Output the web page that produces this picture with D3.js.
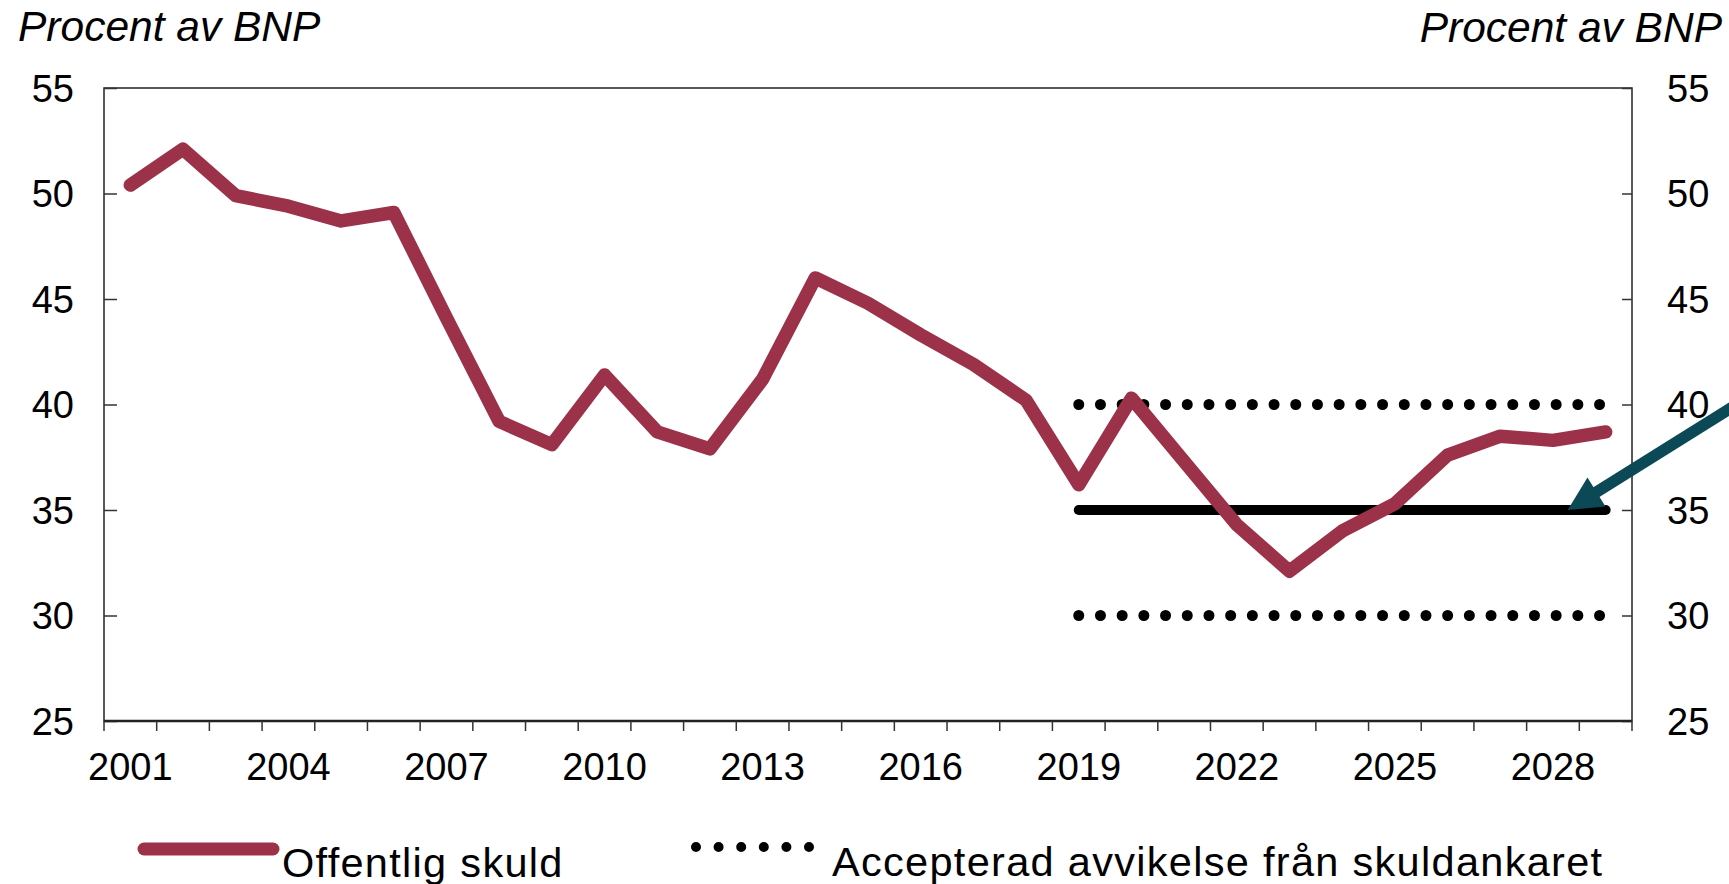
<!DOCTYPE html>
<html>
<head>
<meta charset="utf-8">
<script src="https://cdn.jsdelivr.net/npm/d3@7"></script>
<style>
  body { margin: 0; background: #fff; }
  svg { display: block; font-family: "Liberation Sans", Arial, sans-serif; }
  .tick text { font-size: 38px; fill: #000; }
</style>
</head>
<body>
<div id="chart"></div>
<script>
// data
const years = [2001, 2002, 2003, 2004, 2005, 2006, 2007, 2008, 2009, 2010,
  2011, 2012, 2013, 2014, 2015, 2016, 2017, 2018, 2019, 2020,
  2021, 2022, 2023, 2024, 2025, 2026, 2027, 2028, 2029];
const debt = [50.4, 52.1, 49.9, 49.4, 48.7, 49.1, 44.1, 39.2, 38.1, 41.4,
  38.7, 37.9, 41.2, 46.0, 44.8, 43.3, 41.9, 40.2, 36.2, 40.3,
  37.3, 34.3, 32.1, 34.0, 35.3, 37.6, 38.5, 38.3, 38.7];
const anchorYears = [2019, 2029];
const anchorValue = 35;
const bandValues = [40, 30];
const yTicks = [25, 30, 35, 40, 45, 50, 55];
const xLabels = [2001, 2004, 2007, 2010, 2013, 2016, 2019, 2022, 2025, 2028];
const unitLabel = "Procent av BNP";
const legendLabels = ["Offentlig skuld", "Accepterad avvikelse från skuldankaret"];

const width = 1729, height = 884;
const margin = {top: 88, right: 97, bottom: 163, left: 104};
const red = "#9b3249", teal = "#0c4957";

const svg = d3.select("#chart").append("svg")
  .attr("width", width).attr("height", height);

const x = d3.scaleBand().domain(years).range([margin.left, width - margin.right]);
const y = d3.scaleLinear().domain([25, 55]).range([height - margin.bottom, margin.top]);
const cx = d => x(d) + x.bandwidth() / 2;

// frame
svg.append("rect")
  .attr("x", margin.left).attr("y", margin.top)
  .attr("width", width - margin.left - margin.right)
  .attr("height", height - margin.top - margin.bottom)
  .attr("fill", "none").attr("stroke", "#222").attr("stroke-width", 1.5);

// y axes (ticks point inwards)
const yLeft = svg.append("g").attr("transform", `translate(${margin.left},0)`)
  .call(d3.axisLeft(y).tickValues(yTicks).tickSize(-13).tickPadding(30));
const yRight = svg.append("g").attr("transform", `translate(${width - margin.right},0)`)
  .call(d3.axisRight(y).tickValues(yTicks).tickSize(-10).tickPadding(35));
[yLeft, yRight].forEach(g => {
  g.select(".domain").remove();
  g.selectAll(".tick line").attr("stroke", "#333").attr("stroke-width", 1.5);
  g.selectAll(".tick text").attr("dy", "0.35em");
});

// x axis: labels at band centres, ticks at band edges
const xAxis = svg.append("g").attr("transform", `translate(0,${height - margin.bottom})`)
  .call(d3.axisBottom(x).tickValues(xLabels).tickSize(0).tickPadding(32));
xAxis.select(".domain").remove();
xAxis.selectAll(".tick text").attr("dy", "0.71em").attr("y", 32);
svg.append("line")
  .attr("x1", margin.left).attr("x2", width - margin.right)
  .attr("y1", y(25)).attr("y2", y(25))
  .attr("stroke", "#222").attr("stroke-width", 2.5);
svg.append("g").selectAll("line")
  .data(years.concat([null]))
  .join("line")
  .attr("x1", (d, i) => margin.left + i * x.step())
  .attr("x2", (d, i) => margin.left + i * x.step())
  .attr("y1", y(25)).attr("y2", y(25) + 10)
  .attr("stroke", "#333").attr("stroke-width", 1.5);

// unit labels
svg.append("text").attr("x", 18).attr("y", 41)
  .attr("font-size", 42.5).attr("font-style", "italic").text(unitLabel);
svg.append("text").attr("x", 1722).attr("y", 42)
  .attr("text-anchor", "end")
  .attr("font-size", 42.5).attr("font-style", "italic").text(unitLabel);

// accepted deviation band (dotted)
bandValues.forEach(v => {
  svg.append("line")
    .attr("x1", cx(anchorYears[0])).attr("x2", cx(anchorYears[1]))
    .attr("y1", y(v)).attr("y2", y(v))
    .attr("stroke", "#000").attr("stroke-width", 11)
    .attr("stroke-linecap", "round").attr("stroke-dasharray", "0 21.7");
});

// debt anchor
svg.append("line")
  .attr("x1", cx(anchorYears[0])).attr("x2", cx(anchorYears[1]))
  .attr("y1", y(anchorValue)).attr("y2", y(anchorValue))
  .attr("stroke", "#000").attr("stroke-width", 10).attr("stroke-linecap", "round");

// public debt
const line = d3.line().x((d, i) => cx(years[i])).y(d => y(d));
svg.append("path")
  .attr("d", line(debt))
  .attr("fill", "none").attr("stroke", red).attr("stroke-width", 13.5)
  .attr("stroke-linejoin", "round").attr("stroke-linecap", "round");

// arrow pointing at the anchor
const tip = [cx(2029) - 38, y(anchorValue)];
const dir = [0.848, -0.53], perp = [0.53, 0.848];
const base = [tip[0] + 34 * dir[0], tip[1] + 34 * dir[1]];
svg.append("line")
  .attr("x1", base[0] - 2 * dir[0]).attr("y1", base[1] - 2 * dir[1])
  .attr("x2", tip[0] + 260 * dir[0]).attr("y2", tip[1] + 260 * dir[1])
  .attr("stroke", teal).attr("stroke-width", 11.5);
svg.append("polygon")
  .attr("points", [tip,
    [base[0] + 17 * perp[0], base[1] + 17 * perp[1]],
    [base[0] - 17 * perp[0], base[1] - 17 * perp[1]]].map(p => p.join(",")).join(" "))
  .attr("fill", teal);

// legend (bottom edge clips descenders, as in the source)
const legend = svg.append("g");
legend.append("line")
  .attr("x1", 144).attr("x2", 273).attr("y1", 849).attr("y2", 849)
  .attr("stroke", red).attr("stroke-width", 13).attr("stroke-linecap", "round");
legend.append("text").attr("x", 282).attr("y", 877)
  .attr("font-size", 41.5).attr("letter-spacing", 1.3).text(legendLabels[0]);
legend.append("line")
  .attr("x1", 696).attr("x2", 810).attr("y1", 847).attr("y2", 847)
  .attr("stroke", "#000").attr("stroke-width", 10)
  .attr("stroke-linecap", "round").attr("stroke-dasharray", "0 22.6");
legend.append("text").attr("x", 832).attr("y", 876)
  .attr("font-size", 41.5).attr("letter-spacing", 1.3).text(legendLabels[1]);
</script>
</body>
</html>
